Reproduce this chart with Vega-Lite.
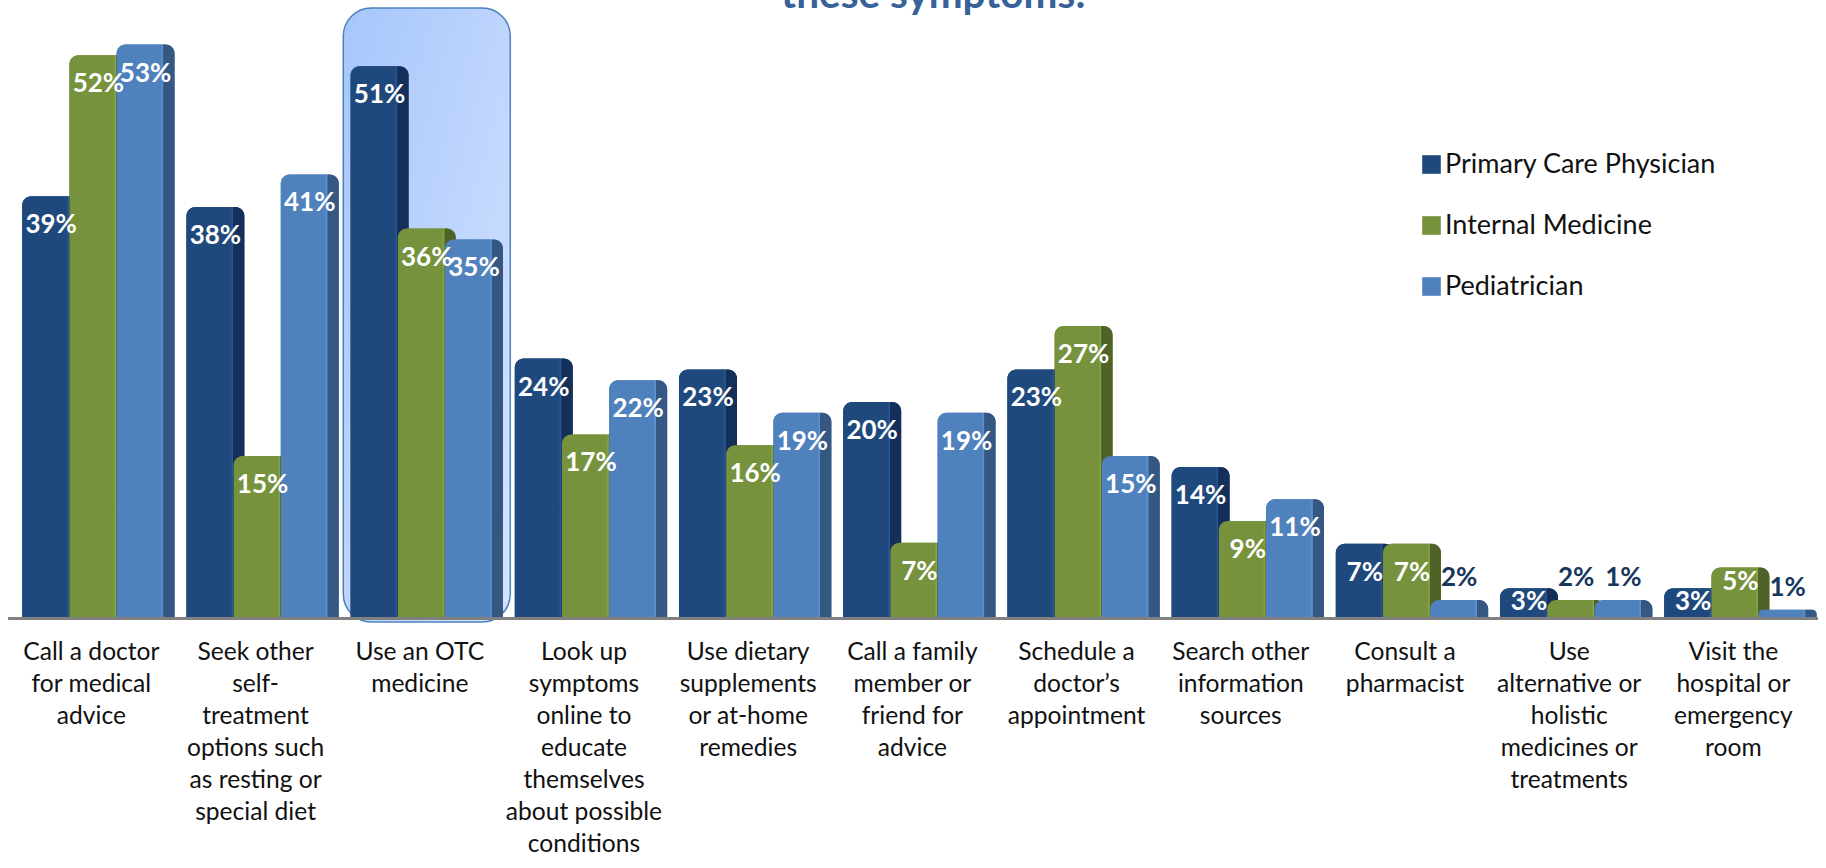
{"$schema":"https://vega.github.io/schema/vega-lite/v6.json","autosize":{"type":"none"},"padding":{"left":8,"top":0,"right":8,"bottom":246},"width":1810,"height":622,"background":"white","view":{"stroke":null},"datasets":{"rows":[{"category":"Call a doctor|for medical|advice","series":"Primary Care Physician","value":39,"label":"39%"},{"category":"Call a doctor|for medical|advice","series":"Internal Medicine","value":52,"label":"52%"},{"category":"Call a doctor|for medical|advice","series":"Pediatrician","value":53,"label":"53%"},{"category":"Seek other|self-|treatment|options such|as resting or|special diet","series":"Primary Care Physician","value":38,"label":"38%"},{"category":"Seek other|self-|treatment|options such|as resting or|special diet","series":"Internal Medicine","value":15,"label":"15%"},{"category":"Seek other|self-|treatment|options such|as resting or|special diet","series":"Pediatrician","value":41,"label":"41%"},{"category":"Use an OTC|medicine","series":"Primary Care Physician","value":51,"label":"51%"},{"category":"Use an OTC|medicine","series":"Internal Medicine","value":36,"label":"36%"},{"category":"Use an OTC|medicine","series":"Pediatrician","value":35,"label":"35%"},{"category":"Look up|symptoms|online to|educate|themselves|about possible|conditions","series":"Primary Care Physician","value":24,"label":"24%"},{"category":"Look up|symptoms|online to|educate|themselves|about possible|conditions","series":"Internal Medicine","value":17,"label":"17%"},{"category":"Look up|symptoms|online to|educate|themselves|about possible|conditions","series":"Pediatrician","value":22,"label":"22%"},{"category":"Use dietary|supplements|or at-home|remedies","series":"Primary Care Physician","value":23,"label":"23%"},{"category":"Use dietary|supplements|or at-home|remedies","series":"Internal Medicine","value":16,"label":"16%"},{"category":"Use dietary|supplements|or at-home|remedies","series":"Pediatrician","value":19,"label":"19%"},{"category":"Call a family|member or|friend for|advice","series":"Primary Care Physician","value":20,"label":"20%"},{"category":"Call a family|member or|friend for|advice","series":"Internal Medicine","value":7,"label":"7%"},{"category":"Call a family|member or|friend for|advice","series":"Pediatrician","value":19,"label":"19%"},{"category":"Schedule a|doctor’s|appointment","series":"Primary Care Physician","value":23,"label":"23%"},{"category":"Schedule a|doctor’s|appointment","series":"Internal Medicine","value":27,"label":"27%"},{"category":"Schedule a|doctor’s|appointment","series":"Pediatrician","value":15,"label":"15%"},{"category":"Search other|information|sources","series":"Primary Care Physician","value":14,"label":"14%"},{"category":"Search other|information|sources","series":"Internal Medicine","value":9,"label":"9%"},{"category":"Search other|information|sources","series":"Pediatrician","value":11,"label":"11%"},{"category":"Consult a|pharmacist","series":"Primary Care Physician","value":6.9,"label":"7%"},{"category":"Consult a|pharmacist","series":"Internal Medicine","value":6.9,"label":"7%"},{"category":"Consult a|pharmacist","series":"Pediatrician","value":1.7,"label":"2%"},{"category":"Use|alternative or|holistic|medicines or|treatments","series":"Primary Care Physician","value":2.8,"label":"3%"},{"category":"Use|alternative or|holistic|medicines or|treatments","series":"Internal Medicine","value":1.7,"label":"2%"},{"category":"Use|alternative or|holistic|medicines or|treatments","series":"Pediatrician","value":1.7,"label":"1%"},{"category":"Visit the|hospital or|emergency|room","series":"Primary Care Physician","value":2.8,"label":"3%"},{"category":"Visit the|hospital or|emergency|room","series":"Internal Medicine","value":4.7,"label":"5%"},{"category":"Visit the|hospital or|emergency|room","series":"Pediatrician","value":0.8,"label":"1%"}],"highlight":[{"category":"Use an OTC|medicine","series":"Internal Medicine","top":56.37}],"heading":[{"category":"Call a family|member or|friend for|advice","series":"Internal Medicine","top":56.38,"label":"these symptoms:"}]},"data":{"name":"rows"},"encoding":{"x":{"field":"category","type":"nominal","sort":null,"scale":{"domain":["Call a doctor|for medical|advice","Seek other|self-|treatment|options such|as resting or|special diet","Use an OTC|medicine","Look up|symptoms|online to|educate|themselves|about possible|conditions","Use dietary|supplements|or at-home|remedies","Call a family|member or|friend for|advice","Schedule a|doctor’s|appointment","Search other|information|sources","Consult a|pharmacist","Use|alternative or|holistic|medicines or|treatments","Visit the|hospital or|emergency|room"],"paddingInner":0.1376,"paddingOuter":0.0803,"align":0.742},"axis":{"title":null,"domain":false,"ticks":false,"labelAngle":0,"labelFont":"Lato","labelFontSize":24.6,"labelColor":"#111111","labelLineHeight":32,"labelPadding":18,"labelOffset":-7,"labelLimit":0,"labelOverlap":false,"labelBound":false,"labelFlush":false,"labelBaseline":"top","labelExpr":"split(datum.label,'|')"}},"xOffset":{"field":"series","type":"nominal","sort":null,"scale":{"domain":["Primary Care Physician","Internal Medicine","Pediatrician"],"paddingInner":0,"paddingOuter":0}},"y":{"field":"value","type":"quantitative","axis":null,"scale":{"domain":[-0.323,57.11],"nice":false,"zero":false}}},"layer":[{"data":{"name":"heading"},"mark":{"type":"text","font":"Lato","fontWeight":"bold","fontSize":40.5,"color":"#366299","baseline":"alphabetic","dx":14},"encoding":{"y":{"field":"top","type":"quantitative"},"text":{"field":"label"}}},{"data":{"name":"highlight"},"mark":{"type":"bar","size":167,"cornerRadius":28,"stroke":"#4F81BD","strokeWidth":1.5,"fill":{"gradient":"linear","x1":0,"y1":0,"x2":1,"y2":1,"stops":[{"offset":0,"color":"#A6C6FB"},{"offset":1,"color":"#D6E4FF"}]}},"encoding":{"y":{"field":"top","type":"quantitative"},"y2":{"datum":-0.323}}},{"mark":{"type":"bar","size":58,"cornerRadiusTopLeft":9,"cornerRadiusTopRight":9},"encoding":{"y2":{"datum":0},"color":{"field":"series","type":"nominal","sort":null,"scale":{"domain":["Primary Care Physician","Internal Medicine","Pediatrician"],"range":["#1F497D","#76923C","#4F81BD"]},"legend":{"title":null,"orient":"none","legendX":1410,"legendY":151,"symbolType":"square","symbolSize":346,"symbolStrokeWidth":0,"labelFont":"Lato","labelFontSize":27,"labelColor":"#111111","labelOffset":0,"labelLimit":0,"rowPadding":33}}}},{"transform":[{"filter":"datum.series==='Primary Care Physician'"}],"mark":{"type":"bar","size":58,"cornerRadiusTopLeft":9,"cornerRadiusTopRight":9,"fill":{"gradient":"linear","x1":0,"y1":0,"x2":1,"y2":0,"stops":[{"offset":0,"color":"#1F497D"},{"offset":0.76,"color":"#1F497D"},{"offset":0.8,"color":"#2A5894"},{"offset":0.81,"color":"#14305A"},{"offset":1,"color":"#14305A"}]}},"encoding":{"y2":{"datum":0}}},{"transform":[{"filter":"datum.series==='Internal Medicine'"}],"mark":{"type":"bar","size":58,"cornerRadiusTopLeft":9,"cornerRadiusTopRight":9,"fill":{"gradient":"linear","x1":0,"y1":0,"x2":1,"y2":0,"stops":[{"offset":0,"color":"#76923C"},{"offset":0.76,"color":"#76923C"},{"offset":0.8,"color":"#86A644"},{"offset":0.81,"color":"#4F6228"},{"offset":1,"color":"#4F6228"}]}},"encoding":{"y2":{"datum":0}}},{"transform":[{"filter":"datum.series==='Pediatrician'"}],"mark":{"type":"bar","size":58,"cornerRadiusTopLeft":9,"cornerRadiusTopRight":9,"fill":{"gradient":"linear","x1":0,"y1":0,"x2":1,"y2":0,"stops":[{"offset":0,"color":"#4F81BD"},{"offset":0.76,"color":"#4F81BD"},{"offset":0.8,"color":"#5E92D2"},{"offset":0.81,"color":"#355882"},{"offset":1,"color":"#355882"}]}},"encoding":{"y2":{"datum":0}}},{"mark":{"type":"rule","color":"#808080","strokeWidth":3},"encoding":{"x":{"value":0},"x2":{"value":1810},"xOffset":{"value":0},"y":{"datum":0}}},{"transform":[{"filter":"datum.value>=6"}],"mark":{"type":"text","font":"Lato","fontWeight":"bold","fontSize":26,"color":"white","dy":29},"encoding":{"text":{"field":"label"}}},{"transform":[{"filter":"datum.value>=2.5 && datum.value<6"}],"mark":{"type":"text","font":"Lato","fontWeight":"bold","fontSize":26,"color":"white","dy":14},"encoding":{"text":{"field":"label"}}},{"transform":[{"filter":"datum.value<2.5"}],"mark":{"type":"text","font":"Lato","fontWeight":"bold","fontSize":26,"color":"#17375E","dy":-22},"encoding":{"text":{"field":"label"}}}]}
